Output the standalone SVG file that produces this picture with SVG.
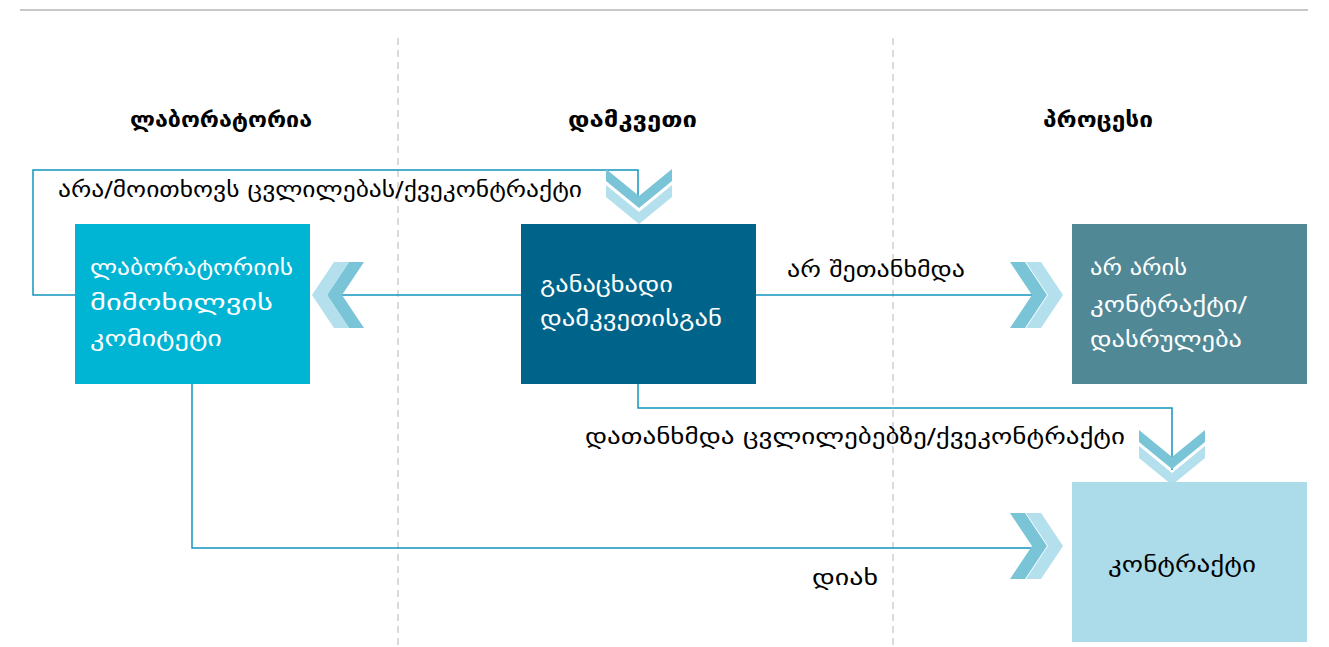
<svg xmlns="http://www.w3.org/2000/svg" width="1329" height="647" viewBox="0 0 1329 647">
<style>
.t{font-family:"DejaVu Sans",sans-serif;font-size:22px;fill:#000}
.h{font-family:"DejaVu Sans",sans-serif;font-size:22px;font-weight:bold;fill:#000}
.w{font-family:"DejaVu Sans",sans-serif;font-size:22px;fill:#fff}
.c{fill:none;stroke:#1494be;stroke-width:1.5}
.dk{fill:#7ac4d7}
.lt{fill:#b4e0ee}
.dash{stroke:#cfcfcf;stroke-width:1.5;stroke-dasharray:7,5}
</style>
<defs>
<polygon id="chR" points="0,-33 15,-33 37,0 15,33 0,33 22,0"/>
<polygon id="chL" points="0,-33 -15,-33 -37,0 -15,33 0,33 -22,0"/>
<polygon id="chD" points="-33,0 -33,12 0,39 33,12 33,0 0,27"/>
</defs>
<line x1="20" y1="10" x2="1308" y2="10" stroke="#c8c8c8" stroke-width="2"/>
<line class="dash" x1="398" y1="38" x2="398" y2="647"/>
<line class="dash" x1="893" y1="38" x2="893" y2="647"/>
<g id="headers">
<text class="h" x="130" y="127" textLength="182" lengthAdjust="spacingAndGlyphs">ლაბორატორია</text>
<text class="h" x="568" y="127" textLength="129" lengthAdjust="spacingAndGlyphs">დამკვეთი</text>
<text class="h" x="1043" y="127" textLength="110" lengthAdjust="spacingAndGlyphs">პროცესი</text>
</g>
<g id="connectors">
<polyline class="c" points="75,295 33,295 33,170 638,170 638,196"/>
<line class="c" x1="521" y1="295" x2="340" y2="295"/>
<line class="c" x1="756" y1="295" x2="1045" y2="295"/>
<polyline class="c" points="638,384 638,408 1172,408 1172,470"/>
<polyline class="c" points="192,384 192,548 1045,548"/>
<use href="#chD" x="639" y="169" class="dk"/>
<use href="#chD" x="639" y="185" class="lt"/>
<use href="#chL" x="364" y="295" class="dk"/>
<use href="#chL" x="349" y="295" class="lt"/>
<use href="#chR" x="1010" y="295" class="dk"/>
<use href="#chR" x="1026" y="295" class="lt"/>
<use href="#chR" x="1010" y="546" class="dk"/>
<use href="#chR" x="1026" y="546" class="lt"/>
<use href="#chD" x="1172" y="430" class="dk"/>
<use href="#chD" x="1172" y="446" class="lt"/>
<text class="t" x="58" y="197" textLength="524" lengthAdjust="spacingAndGlyphs">არა/მოითხოვს ცვლილებას/ქვეკონტრაქტი</text>
<text class="t" x="787" y="277" textLength="178" lengthAdjust="spacingAndGlyphs">არ შეთანხმდა</text>
<text class="t" x="585" y="444" textLength="540" lengthAdjust="spacingAndGlyphs">დათანხმდა ცვლილებებზე/ქვეკონტრაქტი</text>
<text class="t" x="812" y="585" textLength="66" lengthAdjust="spacingAndGlyphs">დიახ</text>
</g>
<g id="lab-committee">
<rect x="75" y="224" width="235" height="160" fill="#00b4d4"/>
<text class="w" x="90" y="275" textLength="203" lengthAdjust="spacingAndGlyphs">ლაბორატორიის</text>
<text class="w" x="90" y="310" textLength="183" lengthAdjust="spacingAndGlyphs">მიმოხილვის</text>
<text class="w" x="90" y="346" textLength="132" lengthAdjust="spacingAndGlyphs">კომიტეტი</text>
</g>
<g id="client-application">
<rect x="521" y="224" width="235" height="160" fill="#00648a"/>
<text class="w" x="540" y="292" textLength="133" lengthAdjust="spacingAndGlyphs">განაცხადი</text>
<text class="w" x="540" y="326" textLength="182" lengthAdjust="spacingAndGlyphs">დამკვეთისგან</text>
</g>
<g id="no-contract">
<rect x="1072" y="224" width="235" height="160" fill="#508896"/>
<text class="w" x="1090" y="275" textLength="97" lengthAdjust="spacingAndGlyphs">არ არის</text>
<text class="w" x="1090" y="312" textLength="157" lengthAdjust="spacingAndGlyphs">კონტრაქტი/</text>
<text class="w" x="1090" y="347" textLength="152" lengthAdjust="spacingAndGlyphs">დასრულება</text>
</g>
<g id="contract">
<rect x="1072" y="482" width="235" height="160" fill="#acdbe9"/>
<text class="t" x="1108" y="572" textLength="148" lengthAdjust="spacingAndGlyphs">კონტრაქტი</text>
</g>
</svg>
